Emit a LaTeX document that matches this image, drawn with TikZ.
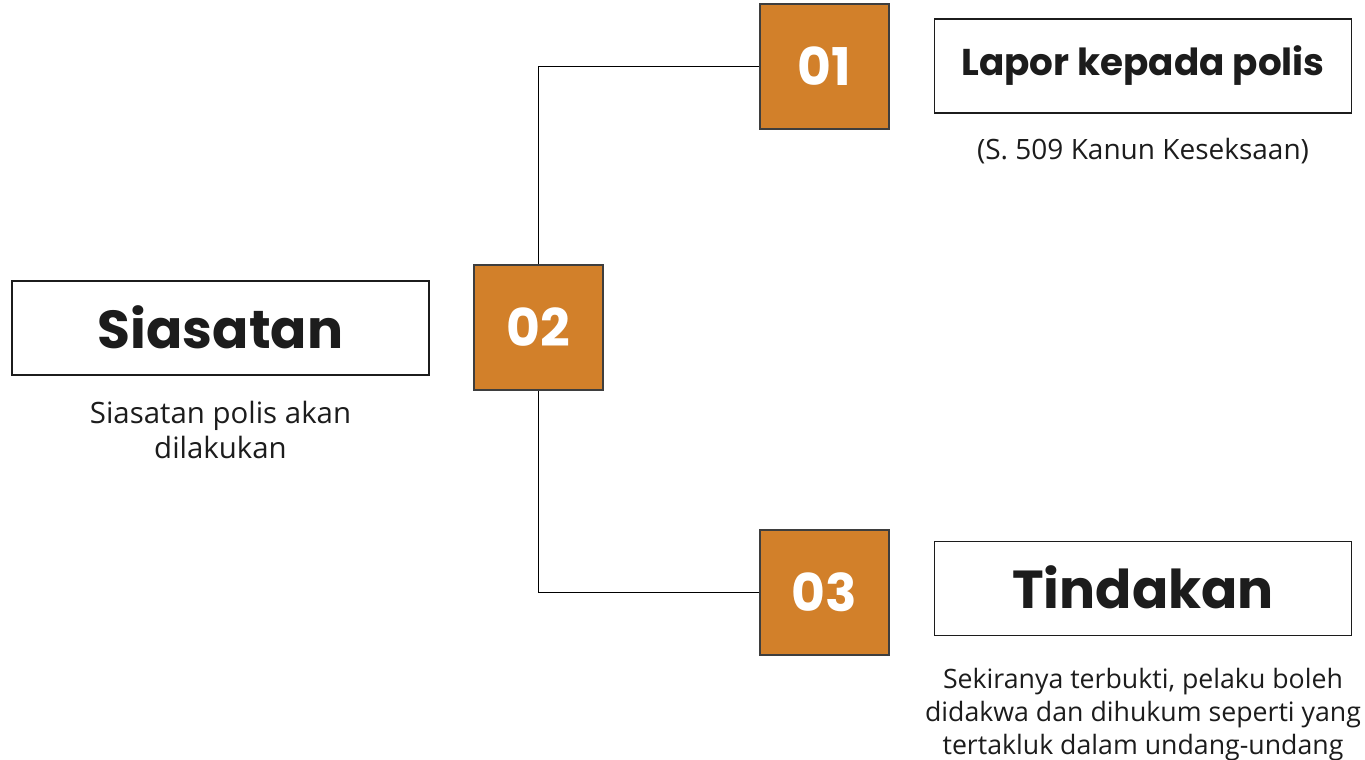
\documentclass[tikz,border=0pt]{standalone}
\usepackage{fontspec}
\setmainfont{Open Sans}
\newfontfamily\poppins{Poppins}
\definecolor{orangebox}{HTML}{D2802A}
\definecolor{ink}{HTML}{1C1C1C}
\tikzset{
  titlebox/.style={draw=ink, line width=1.5pt, minimum width=417pt, minimum height=94pt,
    inner sep=0pt, text=ink},
  numbox/.style={draw=ink!85, fill=orangebox, line width=1.5pt, minimum width=129pt,
    minimum height=125pt, inner sep=0pt, text=white,
    font=\poppins\bfseries\fontsize{52}{56}\selectfont},
  desc/.style={align=center, text=ink},
  link/.style={line width=1.2pt, black}
}
\begin{document}
\begin{tikzpicture}[x=1pt,y=-1pt]
\useasboundingbox (0,0) rectangle (1365,760);
% kotak utama
\node[titlebox, font=\poppins\bfseries\fontsize{53.5}{56}\selectfont] (siasatan) at (220.5,328) {\raisebox{2pt}{Siasatan}};
\node[desc, font=\fontsize{29.4}{35}\selectfont] (siasatandesc) at (220.5,430) {Siasatan polis akan\\dilakukan};
% nombor
\node[numbox] (n02) at (538.5,327.5) {02};
\node[numbox] (n01) at (824.5,66.5) {01};
\node[numbox] (n03) at (824.5,592.5) {03};
% sambungan
\draw[link] (n02.north) |- (n01.west);
\draw[link] (n02.south) |- (n03.west);
% sebelah kanan
\node[titlebox, font=\poppins\bfseries\fontsize{37.3}{40}\selectfont] (lapor) at (1143,66) {\raisebox{-1.5pt}{Lapor kepada polis}};
\node[desc, font=\fontsize{28}{33}\selectfont] (lapordesc) at (1143,151) {(S. 509 Kanun Keseksaan)};
\node[titlebox, font=\poppins\bfseries\fontsize{53.5}{56}\selectfont] (tindakan) at (1143,588.5) {\raisebox{2pt}{Tindakan}};
\node[desc, font=\fontsize{26.7}{33}\selectfont] (tindakandesc) at (1143,715) {Sekiranya terbukti, pelaku boleh\\didakwa dan dihukum seperti yang\\tertakluk dalam undang-undang};
\end{tikzpicture}
\end{document}
